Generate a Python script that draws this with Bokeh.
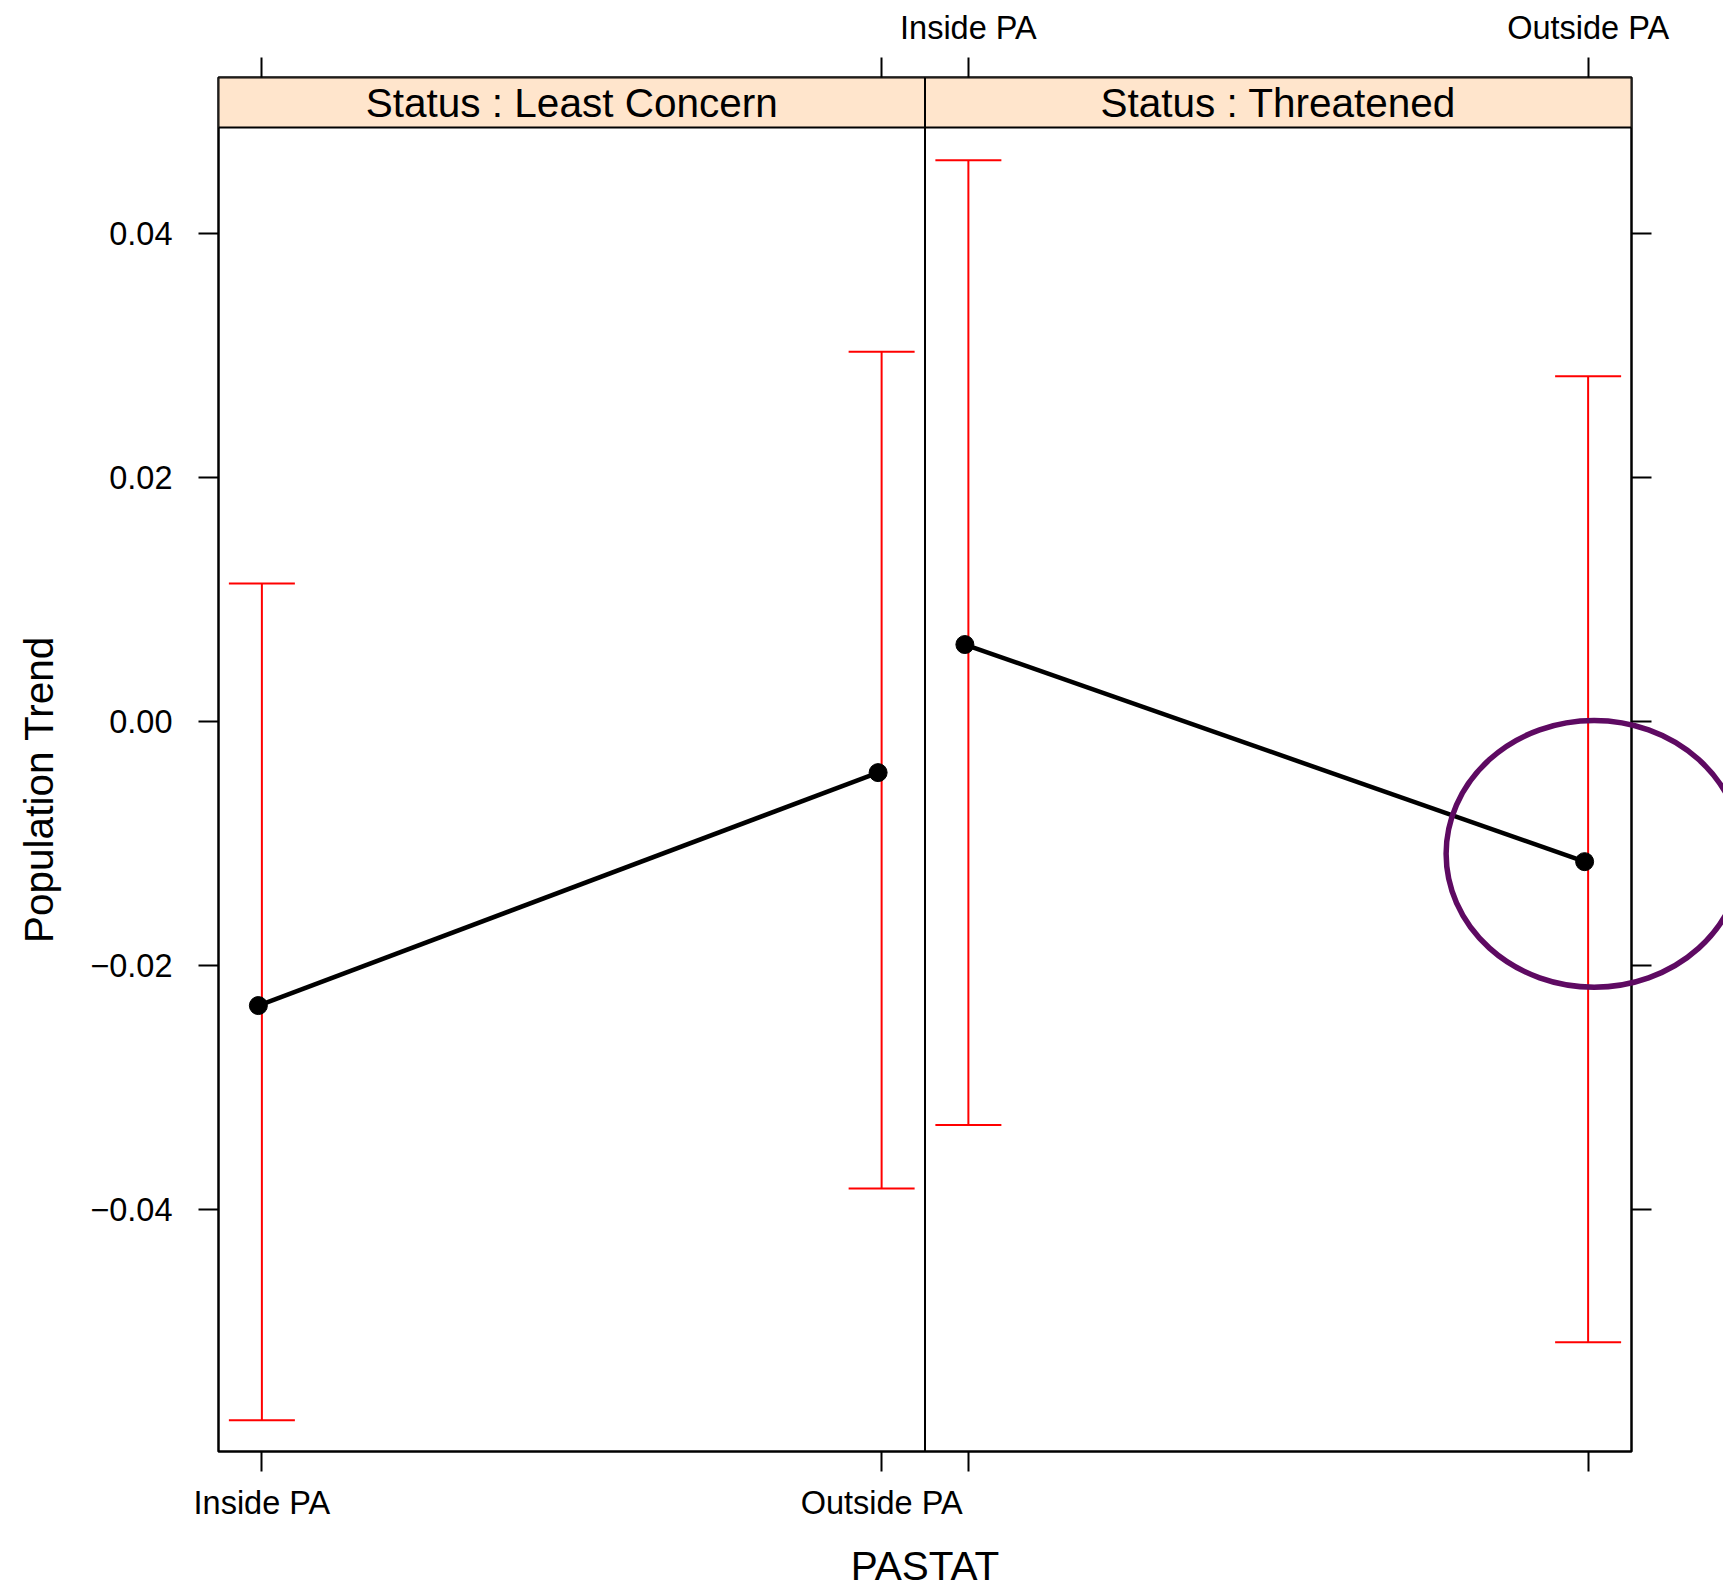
import math
from bokeh.plotting import figure
from bokeh.models import Range1d, LinearAxis, FixedTicker, Span, ColumnDataSource
from bokeh.embed import file_html
from bokeh.resources import INLINE
from bokeh.core.properties import value

# ---------------- data ----------------
panels = ["Status : Least Concern", "Status : Threatened"]
categories = ["Inside PA", "Outside PA"]
lc_mean = [-0.0233, -0.0042]
lc_lower = [-0.0573, -0.0383]
lc_upper = [0.0113, 0.0303]
th_mean = [0.0063, -0.0115]
th_lower = [-0.0331, -0.0509]
th_upper = [0.0460, 0.0283]
y_ticks = [-0.04, -0.02, 0.0, 0.02, 0.04]
y_tick_labels = ["\u22120.04", "\u22120.02", "0.00", "0.02", "0.04"]
x_title = "PASTAT"
y_title = "Population Trend"
highlight_y = -0.01086      # centre of the hand-drawn circle (Threatened / Outside PA)
highlight_ry = 0.01093

# ---------------- layout ----------------
FONT = "Liberation Sans"
PAD = 0.07
PANEL_W = 1 + 2 * PAD
X0 = 1 - PAD
X1 = X0 + 2 * PANEL_W
Y_BOTTOM = -0.05986
STRIP_BOTTOM = 0.04869
Y_TOP = 0.05279
FRAME_W = 1413
FRAME_H = 1374
LEFT_B, TOP_B = 218, 77
ppx = FRAME_W / (X1 - X0)
ppy = FRAME_H / (Y_TOP - Y_BOTTOM)

W, H = 1723, 1590
p = figure(width=W, height=H, x_range=Range1d(X0, X1), y_range=Range1d(Y_BOTTOM, Y_TOP),
           output_backend="svg", toolbar_location=None,
           x_axis_location="below", y_axis_location="left",
           min_border_left=LEFT_B, min_border_right=W - LEFT_B - FRAME_W,
           min_border_top=TOP_B, min_border_bottom=H - TOP_B - FRAME_H)
p.xgrid.visible = False
p.ygrid.visible = False
p.background_fill_color = "white"
p.border_fill_color = "white"
p.outline_line_color = "black"
p.outline_line_width = 2.5

# x positions of categories in each panel
xpos = [[1 + j + i * PANEL_W for j in range(len(categories))] for i in range(len(panels))]
all_ticks = xpos[0] + xpos[1]

def style_axis(ax, ticks, overrides):
    ax.ticker = FixedTicker(ticks=ticks, minor_ticks=[])
    ax.major_label_overrides = overrides
    ax.axis_line_color = None
    ax.major_tick_line_color = "black"
    ax.major_tick_line_width = 2
    ax.major_tick_out = 20
    ax.major_tick_in = 0
    ax.minor_tick_line_color = None
    ax.major_label_text_font = FONT
    ax.major_label_text_font_size = "32.5px"
    ax.major_label_text_color = "black"

bottom = p.xaxis[0]
ov_b = {t: "" for t in all_ticks}
for j, c in enumerate(categories):
    ov_b[xpos[0][j]] = c
style_axis(bottom, all_ticks, ov_b)
bottom.major_label_standoff = 13

top = LinearAxis()
ov_t = {t: "" for t in all_ticks}
for j, c in enumerate(categories):
    ov_t[xpos[1][j]] = c
style_axis(top, all_ticks, ov_t)
top.major_label_standoff = 12
p.add_layout(top, "above")

left = p.yaxis[0]
style_axis(left, y_ticks, {t: l for t, l in zip(y_ticks, y_tick_labels)})
left.major_label_standoff = 26

right = LinearAxis()
style_axis(right, y_ticks, {t: "" for t in y_ticks})
p.add_layout(right, "right")

# strips
divider = X0 + PANEL_W
p.quad(left=[X0, divider], right=[divider, X1], bottom=[STRIP_BOTTOM] * 2, top=[Y_TOP] * 2,
       fill_color="#FFE5CC", line_color="black", line_width=2)
p.text(x=[X0 + PANEL_W * (i + 0.5) for i in range(len(panels))],
       y=[STRIP_BOTTOM + 24.2 / ppy] * len(panels), text=panels,
       text_font=value(FONT), text_font_size="40.5px", text_align="center",
       text_baseline="middle", text_color="black")
p.add_layout(Span(location=divider, dimension="height", line_color="black", line_width=2))

# error bars, lines and points
CAP = 33 / ppx
DODGE = -3.5 / ppx
for i, (m, lo, hi) in enumerate([(lc_mean, lc_lower, lc_upper), (th_mean, th_lower, th_upper)]):
    xs = xpos[i]
    src = ColumnDataSource(dict(x=xs, xl=[x - CAP for x in xs], xr=[x + CAP for x in xs],
                                xd=[x + DODGE for x in xs], m=m, lo=lo, hi=hi))
    p.segment(x0="x", y0="lo", x1="x", y1="hi", source=src, line_color="#FF0000", line_width=2)
    p.segment(x0="xl", y0="hi", x1="xr", y1="hi", source=src, line_color="#FF0000", line_width=2)
    p.segment(x0="xl", y0="lo", x1="xr", y1="lo", source=src, line_color="#FF0000", line_width=2)
    p.line(x="xd", y="m", source=src, line_color="black", line_width=4.5)
    p.scatter(x="xd", y="m", source=src, size=18, marker="circle",
              fill_color="black", line_color="black")

# highlight circle around Threatened / Outside PA
p.ellipse(x=[xpos[1][1] + 6 / ppx], y=[highlight_y], width=[2 * 148 / ppx],
          height=[2 * highlight_ry], fill_color=None, line_color="#5E0A62",
          line_width=5.5, level="overlay")

# axis titles (overlay level so they may sit outside the frame)
p.text(x=[(X0 + X1) / 2], y=[Y_BOTTOM - 114.5 / ppy], text=[x_title],
       text_font=value(FONT), text_font_size="40.5px", text_align="center",
       text_baseline="middle", text_color="black", level="overlay")
p.text(x=[X0 - 180 / ppx], y=[(STRIP_BOTTOM + Y_BOTTOM) / 2], text=[y_title],
       angle=math.pi / 2, text_font=value(FONT), text_font_size="40.5px",
       text_align="center", text_baseline="middle", text_color="black", level="overlay")

open("out.html", "w").write(file_html(p, INLINE))
